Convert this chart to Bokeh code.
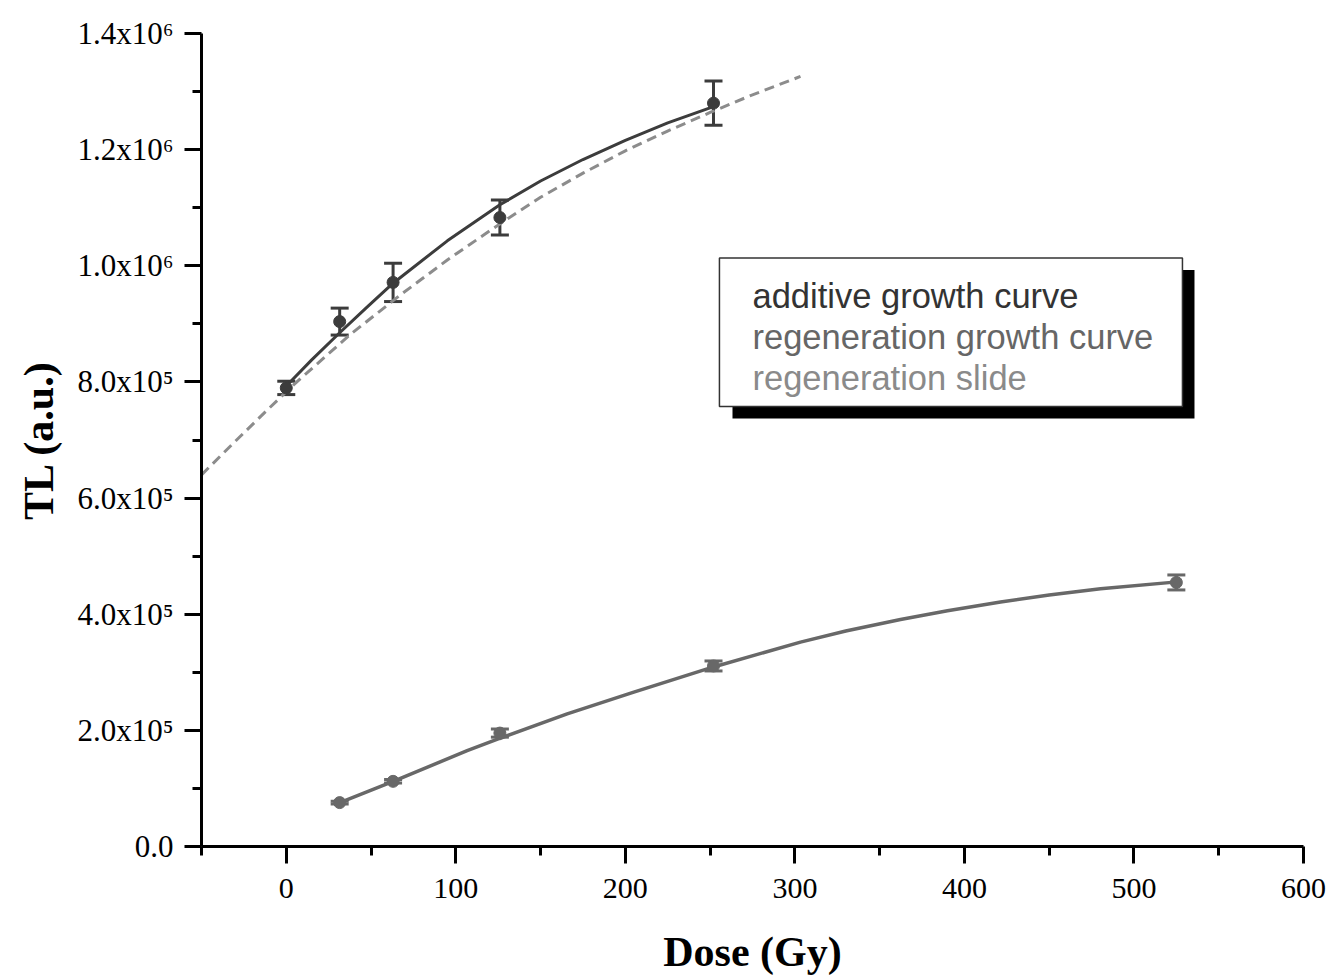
from bokeh.plotting import figure
from bokeh.models import (Range1d, FixedTicker, ColumnDataSource, Whisker, TeeHead,
                          BoxAnnotation, Label, Title)
from bokeh.embed import file_html
from bokeh.resources import INLINE

# ---- data ----
dose_add = [0, 31.5, 63, 126, 252]
tl_add = [789700, 903900, 971400, 1083100, 1280100]
err_add = [11500, 23200, 33000, 30000, 38000]

dose_reg = [31.5, 63, 126, 252, 525]
tl_reg = [75600, 112200, 195300, 310900, 454700]
err_reg = [2500, 3000, 7000, 8600, 12900]

fit_add_x = [0, 15, 31.5, 47, 63, 95, 126, 150, 175, 200, 225, 252]
fit_add_y = [793000, 838000, 884700, 927000, 970000, 1043000, 1105000, 1146000,
             1183000, 1216000, 1246000, 1274000]

fit_reg_x = [31.6, 63.1, 106.7, 125.8, 165.7, 205.0, 252, 303.3, 330, 362.3, 390,
             421.3, 450, 480.3, 525.5]
fit_reg_y = [75600, 112200, 165000, 186000, 228500, 265700, 309200, 352000, 371000,
             391000, 406000, 421000, 433000, 444000, 455700]

fit_slide_x = [-50, -30, -11.1, 4.3, 37.9, 67.4, 95, 126.4, 150, 175.3, 200, 224.9,
               250, 273.8, 303.3]
fit_slide_y = [640000, 698000, 752000, 795000, 882000, 950000, 1010000, 1073000,
               1118000, 1160000, 1198000, 1232000, 1264000, 1293000, 1326000]

x_major = [0, 100, 200, 300, 400, 500, 600]
x_minor = [-50, 50, 150, 250, 350, 450, 550]
y_major = [0, 200000, 400000, 600000, 800000, 1000000, 1200000, 1400000]
y_minor = [100000, 300000, 500000, 700000, 900000, 1100000, 1300000]
y_labels = ["0.0", "2.0x10\u2075", "4.0x10\u2075", "6.0x10\u2075", "8.0x10\u2075",
            "1.0x10\u2076", "1.2x10\u2076", "1.4x10\u2076"]

legend_texts = ["additive growth curve", "regeneration growth curve", "regeneration slide"]

C_ADD = "#3c3c3c"
C_REG = "#686868"
C_SLIDE = "#8c8c8c"
legend_colors = ["#333333", "#666666", "#8a8a8a"]

p = figure(width=1332, height=977, output_backend="svg", toolbar_location=None,
           x_range=Range1d(-50, 600), y_range=Range1d(0, 1400000),
           min_border_left=201, min_border_right=29, min_border_top=33, min_border_bottom=129)
p.outline_line_color = None
p.xgrid.visible = False
p.ygrid.visible = False
p.background_fill_color = "white"
p.border_fill_color = "white"

for ax in (p.xaxis[0], p.yaxis[0]):
    ax.axis_line_width = 3
    ax.axis_line_color = "black"
    ax.major_tick_line_width = 3
    ax.minor_tick_line_width = 3
    ax.major_tick_line_color = "black"
    ax.minor_tick_line_color = "black"
    ax.major_tick_in = 0
    ax.major_tick_out = 17
    ax.minor_tick_in = 0
    ax.minor_tick_out = 9
    ax.major_label_text_font = "Liberation Serif"
    ax.major_label_text_color = "black"

p.xaxis.major_label_text_font_size = "30px"
p.yaxis.major_label_text_font_size = "31px"
p.xaxis.ticker = FixedTicker(ticks=x_major, minor_ticks=x_minor)
p.yaxis.ticker = FixedTicker(ticks=y_major, minor_ticks=y_minor)
p.yaxis.major_label_overrides = {v: s for v, s in zip(y_major, y_labels)}
p.xaxis.major_label_standoff = 15
p.yaxis.major_label_standoff = 11

p.xaxis.axis_label = "Dose (Gy)"
p.xaxis.axis_label_text_font = "Liberation Serif"
p.xaxis.axis_label_text_font_style = "bold"
p.xaxis.axis_label_text_font_size = "42px"
p.xaxis.axis_label_text_color = "black"
p.xaxis.axis_label_standoff = 28

# y axis label as a side title (allows shifting it below the frame centre)
p.add_layout(Title(text="TL (a.u.)", align="center", offset=-35, standoff=25,
                   text_font="Liberation Serif", text_font_style="bold",
                   text_font_size="42px", text_color="black"), "left")

# fitted curves
p.line(fit_slide_x, fit_slide_y, line_color=C_SLIDE, line_width=3, line_dash="10 6")
p.line(fit_add_x, fit_add_y, line_color=C_ADD, line_width=3)
p.line(fit_reg_x, fit_reg_y, line_color=C_REG, line_width=3.5)

# error bars
src_add = ColumnDataSource(dict(x=dose_add, y=tl_add,
                                lo=[a - e for a, e in zip(tl_add, err_add)],
                                hi=[a + e for a, e in zip(tl_add, err_add)]))
src_reg = ColumnDataSource(dict(x=dose_reg, y=tl_reg,
                                lo=[a - e for a, e in zip(tl_reg, err_reg)],
                                hi=[a + e for a, e in zip(tl_reg, err_reg)]))
for src, col in ((src_add, C_ADD), (src_reg, C_REG)):
    w = Whisker(source=src, base="x", upper="hi", lower="lo", dimension="height",
                line_color=col, line_width=3,
                upper_head=TeeHead(size=18, line_width=3, line_color=col),
                lower_head=TeeHead(size=18, line_width=3, line_color=col))
    p.add_layout(w)

p.scatter("x", "y", source=src_add, size=12, fill_color=C_ADD, line_color=C_ADD)
p.scatter("x", "y", source=src_reg, size=12, fill_color=C_REG, line_color=C_REG)

# legend box with shadow
p.add_layout(BoxAnnotation(left=263.2, right=535.7, top=992900, bottom=736900,
                           fill_color="black", fill_alpha=1.0, line_color=None))
p.add_layout(BoxAnnotation(left=255.5, right=528.6, top=1013500, bottom=757500,
                           fill_color="white", fill_alpha=1.0, line_color="#333333",
                           line_alpha=1.0, line_width=1.5))
legend_y = [948200, 877800, 807400]
for t, c, yy in zip(legend_texts, legend_colors, legend_y):
    p.add_layout(Label(x=275, y=yy, text=t, text_font="Liberation Sans",
                       text_font_size="34.5px", text_color=c,
                       text_align="left", text_baseline="alphabetic"))

open("out.html", "w").write(file_html(p, INLINE))
